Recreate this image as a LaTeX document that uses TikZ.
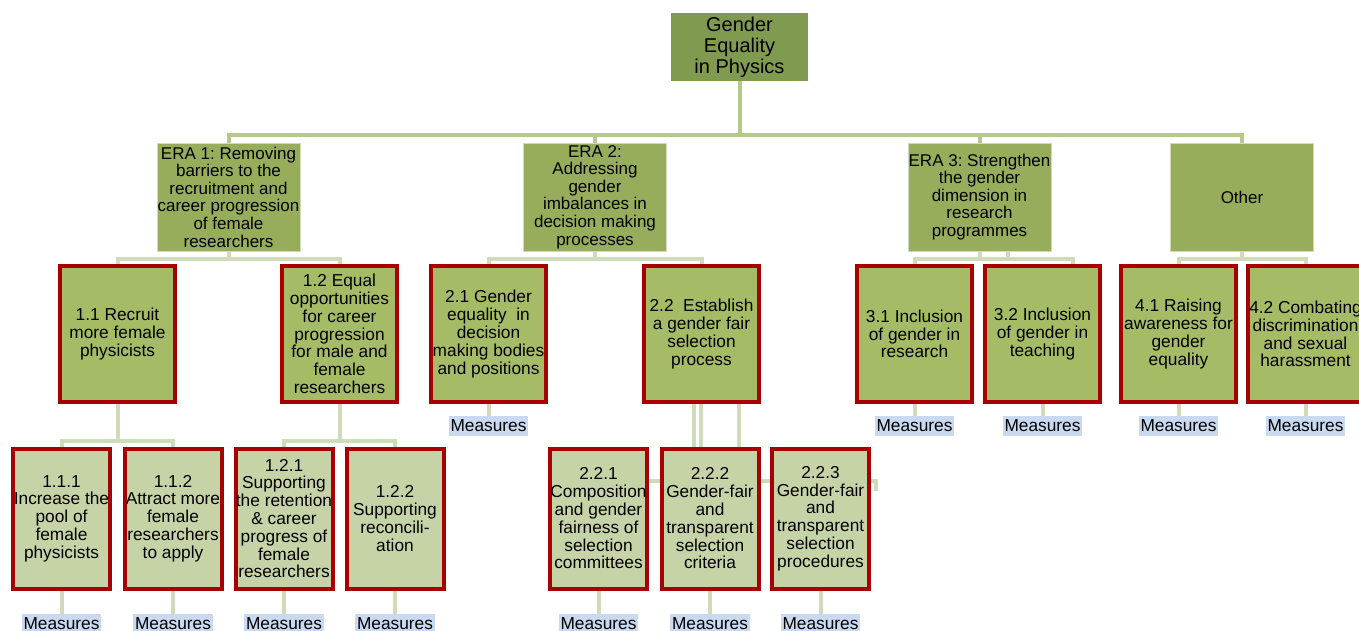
\documentclass[tikz,border=0pt]{standalone}
\usepackage{fontspec}
\setmainfont{Liberation Sans}
\frenchspacing
\usetikzlibrary{backgrounds}
\definecolor{rootc}{HTML}{809A50}
\definecolor{erac}{HTML}{97AD5B}
\definecolor{lvtwo}{HTML}{A6BB65}
\definecolor{lvthree}{HTML}{C6D3A6}
\definecolor{redb}{HTML}{A80000}
\definecolor{barc}{HTML}{B4C98B}
\definecolor{linkc}{HTML}{CFDBB9}
\definecolor{measc}{HTML}{C9D9EF}
\tikzset{
 txt/.style={font=\fontsize{17.3}{17.8}\selectfont, align=center, inner sep=0pt, outer sep=0pt, text=black},
 rootbox/.style={txt, fill=rootc, minimum width=137pt, minimum height=68pt, font=\fontsize{20}{21}\selectfont},
 erabox/.style={txt, fill=erac, draw=linkc, line width=0.8pt, minimum width=143pt, minimum height=108pt, font=\fontsize{17}{17.6}\selectfont},
 twobox/.style={txt, fill=lvtwo, draw=redb, line width=4pt, minimum width=115pt, minimum height=136pt},
 threebox/.style={txt, fill=lvthree, draw=redb, line width=4pt, minimum width=97pt, minimum height=140pt},
 meas/.style={txt, fill=measc, inner xsep=1.7pt, minimum height=20pt, font=\fontsize{17.3}{17.3}\selectfont},
 bar/.style={draw=barc, line width=4pt},
 link/.style={draw=linkc, line width=4pt},
}
\begin{document}
\begin{tikzpicture}[x=1pt,y=-1pt]
\useasboundingbox (0,0) rectangle (1359,631);
% root and ERA level
\node[rootbox] (root) at (739.5,47) {Gender\\Equality\\in Physics};
\node[erabox] (era1) at (228.5,197) {ERA 1: Removing\\barriers to the\\recruitment and\\career progression\\of female\\researchers};
\node[erabox] (era2) at (595,197) {ERA 2:\\Addressing\\gender\\imbalances in\\decision making\\processes};
\node[erabox] (era3) at (979.5,197) {ERA 3: Strengthen\\the gender\\dimension in\\research\\programmes};
\node[erabox] (era4) at (1242,197) {Other};
% level 2
\node[twobox] (n11) at (117.5,334) {1.1 Recruit\\more female\\physicists};
\node[twobox] (n12) at (339.5,334) {1.2 Equal\\opportunities\\for career\\progression\\for male and\\female\\researchers};
\node[twobox] (n21) at (488.5,334) {2.1 Gender\\equality\ \ in\\decision\\making bodies\\and positions};
\node[twobox] (n22) at (701.5,334) {2.2\ \ Establish\\a gender fair\\selection\\process};
\node[twobox] (n31) at (914.5,334) {3.1 Inclusion\\of gender in\\research};
\node[twobox] (n32) at (1042.5,334) {3.2 Inclusion\\of gender in\\teaching};
\node[twobox] (n41) at (1178.5,334) {4.1 Raising\\awareness for\\gender\\equality};
\node[twobox] (n42) at (1305.5,334) {4.2 Combating\\discrimination\\and sexual\\harassment};
% level 3
\node[threebox] (n111) at (61.5,518.5) {1.1.1\\Increase the\\pool of\\female\\physicists};
\node[threebox] (n112) at (173,518.5) {1.1.2\\Attract more\\female\\researchers\\to apply};
\node[threebox] (n121) at (284,518.5) {1.2.1\\Supporting\\the retention\\\& career\\progress of\\female\\researchers};
\node[threebox] (n122) at (395,518.5) {1.2.2\\Supporting\\reconcili-\\ation};
\node[threebox] (n221) at (598.5,518.5) {2.2.1\\Composition\\and gender\\fairness of\\selection\\committees};
\node[threebox] (n222) at (710,518.5) {2.2.2\\Gender-fair\\and\\transparent\\selection\\criteria};
\node[threebox] (n223) at (820.5,518.5) {2.2.3\\Gender-fair\\and\\transparent\\selection\\procedures};
% measures
\node[meas] (m21) at (488.5,426) {Measures};
\node[meas] (m31) at (914.5,426) {Measures};
\node[meas] (m32) at (1042.5,426) {Measures};
\node[meas] (m41) at (1178.5,426) {Measures};
\node[meas] (m42) at (1305.5,426) {Measures};
\node[meas] (m111) at (61.5,624) {Measures};
\node[meas] (m112) at (173,624) {Measures};
\node[meas] (m121) at (284,624) {Measures};
\node[meas] (m122) at (395,624) {Measures};
\node[meas] (m221) at (598.5,624) {Measures};
\node[meas] (m222) at (710,624) {Measures};
\node[meas] (m223) at (820.5,624) {Measures};
\begin{scope}[on background layer]
\coordinate (b0) at (0,135);
\coordinate (b1) at (0,259);
\coordinate (b2) at (0,441);
\coordinate (b3) at (0,481);
\coordinate (e3) at (876,491);
\coordinate (r3) at (1073,264);
\draw[bar] (root.south) -- (root.south |- b0);
\draw[bar] (era1.north) -- (era1.north |- b0) -- (era4.north |- b0) -- (era4.north);
\draw[bar] (era2.north) -- (era2.north |- b0);
\draw[bar] (era3.north) -- (era3.north |- b0);
% ERA -> level 2
\draw[link] (era1.south) -- (era1.south |- b1);
\draw[link] (n11.north) -- (n11.north |- b1) -- (n12.north |- b1) -- (n12.north);
\draw[link] (era2.south) -- (era2.south |- b1);
\draw[link] (n21.north) -- (n21.north |- b1) -- (n22.north |- b1) -- (n22.north);
\draw[link] (era3.south) -- (era3.south |- b1);
\draw[link] (n31.north) -- (n31.north |- b1) -| (r3);
\draw[link] ([xshift=28.5pt]era3.south) -- ([xshift=28.5pt]era3.south |- b1);
\draw[link] (era4.south) -- (era4.south |- b1);
\draw[link] (n41.north) -- (n41.north |- b1) -- (n42.north |- b1) -- (n42.north);
% level 2 -> level 3
\draw[link] (n11.south) -- (n11.south |- b2);
\draw[link] (n111.north) -- (n111.north |- b2) -- (n112.north |- b2) -- (n112.north);
\draw[link] (n12.south) -- (n12.south |- b2);
\draw[link] (n121.north) -- (n121.north |- b2) -- (n122.north |- b2) -- (n122.north);
\draw[link] ([xshift=-7.5pt]n22.south) -- ([xshift=-7.5pt]n22.south |- n222.north);
\draw[link] ([xshift=-0.5pt]n22.south) -- ([xshift=-0.5pt]n22.south |- n222.north);
\draw[link] ([xshift=37.5pt]n22.south) -- ([xshift=37.5pt]n22.south |- n222.north);
\draw[link] (n221.center |- b3) -| (e3);
% measures links
\foreach \n in {21,31,32,41,42,111,112,121,122,221,222,223}
  \draw[link] (n\n.south) -- (m\n.north);
\end{scope}
\end{tikzpicture}
\end{document}
